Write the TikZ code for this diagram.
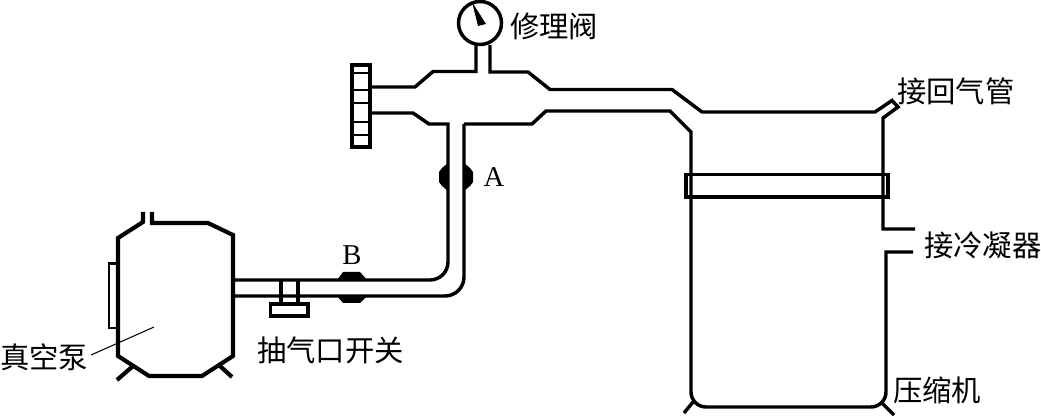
\documentclass[tikz,border=0pt]{standalone}
\usepackage{fontspec}
\newfontfamily\cjk{Noto Sans CJK SC}
\setmainfont{Liberation Serif}
\tikzset{
  pipe/.style={line width=2.6pt,line join=miter,black},
  thick pipe/.style={line width=3.1pt,line join=miter,black},
  thinline/.style={line width=1.1pt,black},
  hair/.style={line width=0.8pt,black},
  cnlabel/.style={inner sep=0pt,font=\cjk\fontsize{22pt}{22pt}\selectfont,black},
  latin/.style={inner sep=0pt,font=\fontsize{21.5pt}{22pt}\selectfont,black}
}
\begin{document}
\begin{tikzpicture}[x=0.75pt,y=-0.75pt]
\useasboundingbox[fill=white] (0,0) rectangle (1041,416);
% gauge
\draw[pipe] (480,23) circle (21.5);
\fill[black] (472,2) -- (478,26) -- (486,24) -- cycle;
% handwheel
\draw[pipe] (352,65) rectangle (370,147);
\foreach \yy in {73,90,103,122,135} \draw[thinline] (352,\yy) -- (370,\yy);
% upper pipe
\draw[pipe] (370,87) -- (415,87) -- (433,71.5) -- (476,71.5) -- (476,45);
\draw[pipe] (490,45) -- (490,72) -- (528,72) -- (550,89.5) -- (672,89.5) -- (702,112) -- (875,112) -- (892,100.5) -- (898,107) -- (883,118) -- (883,229) -- (915,229);
% lower pipe
\draw[pipe] (370,113) -- (413,113) -- (429,124) -- (448,124) -- (448,262) arc[start angle=0,end angle=90,radius=18] -- (233,280);
\draw[pipe] (464,124) -- (464,277) arc[start angle=0,end angle=90,radius=19] -- (233,296);
\draw[pipe] (464,124) -- (532,124) -- (546,111) -- (670,111) -- (691,132) -- (691,392) arc[start angle=180,end angle=90,radius=15] -- (871,407) arc[start angle=90,end angle=0,radius=15] -- (886,252) -- (913,252);
% band
\draw[pipe] (686,174.5) rectangle (888,197);
% compressor feet
\draw[pipe] (693,402) -- (684,413);
\draw[pipe] (882,403) -- (894,415);
% valve A
\fill[black] (448,163) -- (442,168) -- (439,172) -- (439,182) -- (442,186) -- (448,191) -- cycle;
\fill[black] (464,163) -- (470,168) -- (473,172) -- (473,182) -- (470,186) -- (464,191) -- cycle;
% valve B
\fill[black] (337,280) -- (343,272) -- (360,272) -- (367,280) -- cycle;
\fill[black] (337,296) -- (343,303) -- (360,303) -- (367,296) -- cycle;
% suction switch
\draw[pipe] (281,280) -- (281,305);
\draw[pipe] (298,280) -- (298,305);
\draw[pipe] (270.5,304) rectangle (308,316);
% pump
\draw[thick pipe] (143,212) -- (143,222) -- (118,238) -- (118,356) -- (149,376) -- (202,376) -- (233,356) -- (233,235) -- (208,223) -- (152,223) -- (152,212);
\draw[pipe,line width=2.1pt] (118,263.5) -- (109,263.5) -- (109,328) -- (118,328);
\draw[thick pipe] (133,366) -- (117,380);
\draw[thick pipe] (220,366) -- (232,377);
\draw[hair] (91,355) -- (154,327);
% labels
\node[cnlabel,anchor=west] (valve) at (510,26) {修理阀};
\node[cnlabel,anchor=west] (ret) at (897,91) {接回气管};
\node[cnlabel,anchor=west] (cond) at (924,245) {接冷凝器};
\node[cnlabel,anchor=west] (comp) at (893,390) {压缩机};
\node[cnlabel,anchor=west] (pumpl) at (0,357) {真空泵};
\node[cnlabel,anchor=west] (sw) at (257,350) {抽气口开关};
\node[latin] (a) at (494,177) {A};
\node[latin] (b) at (352,255) {B};
\end{tikzpicture}
\end{document}
